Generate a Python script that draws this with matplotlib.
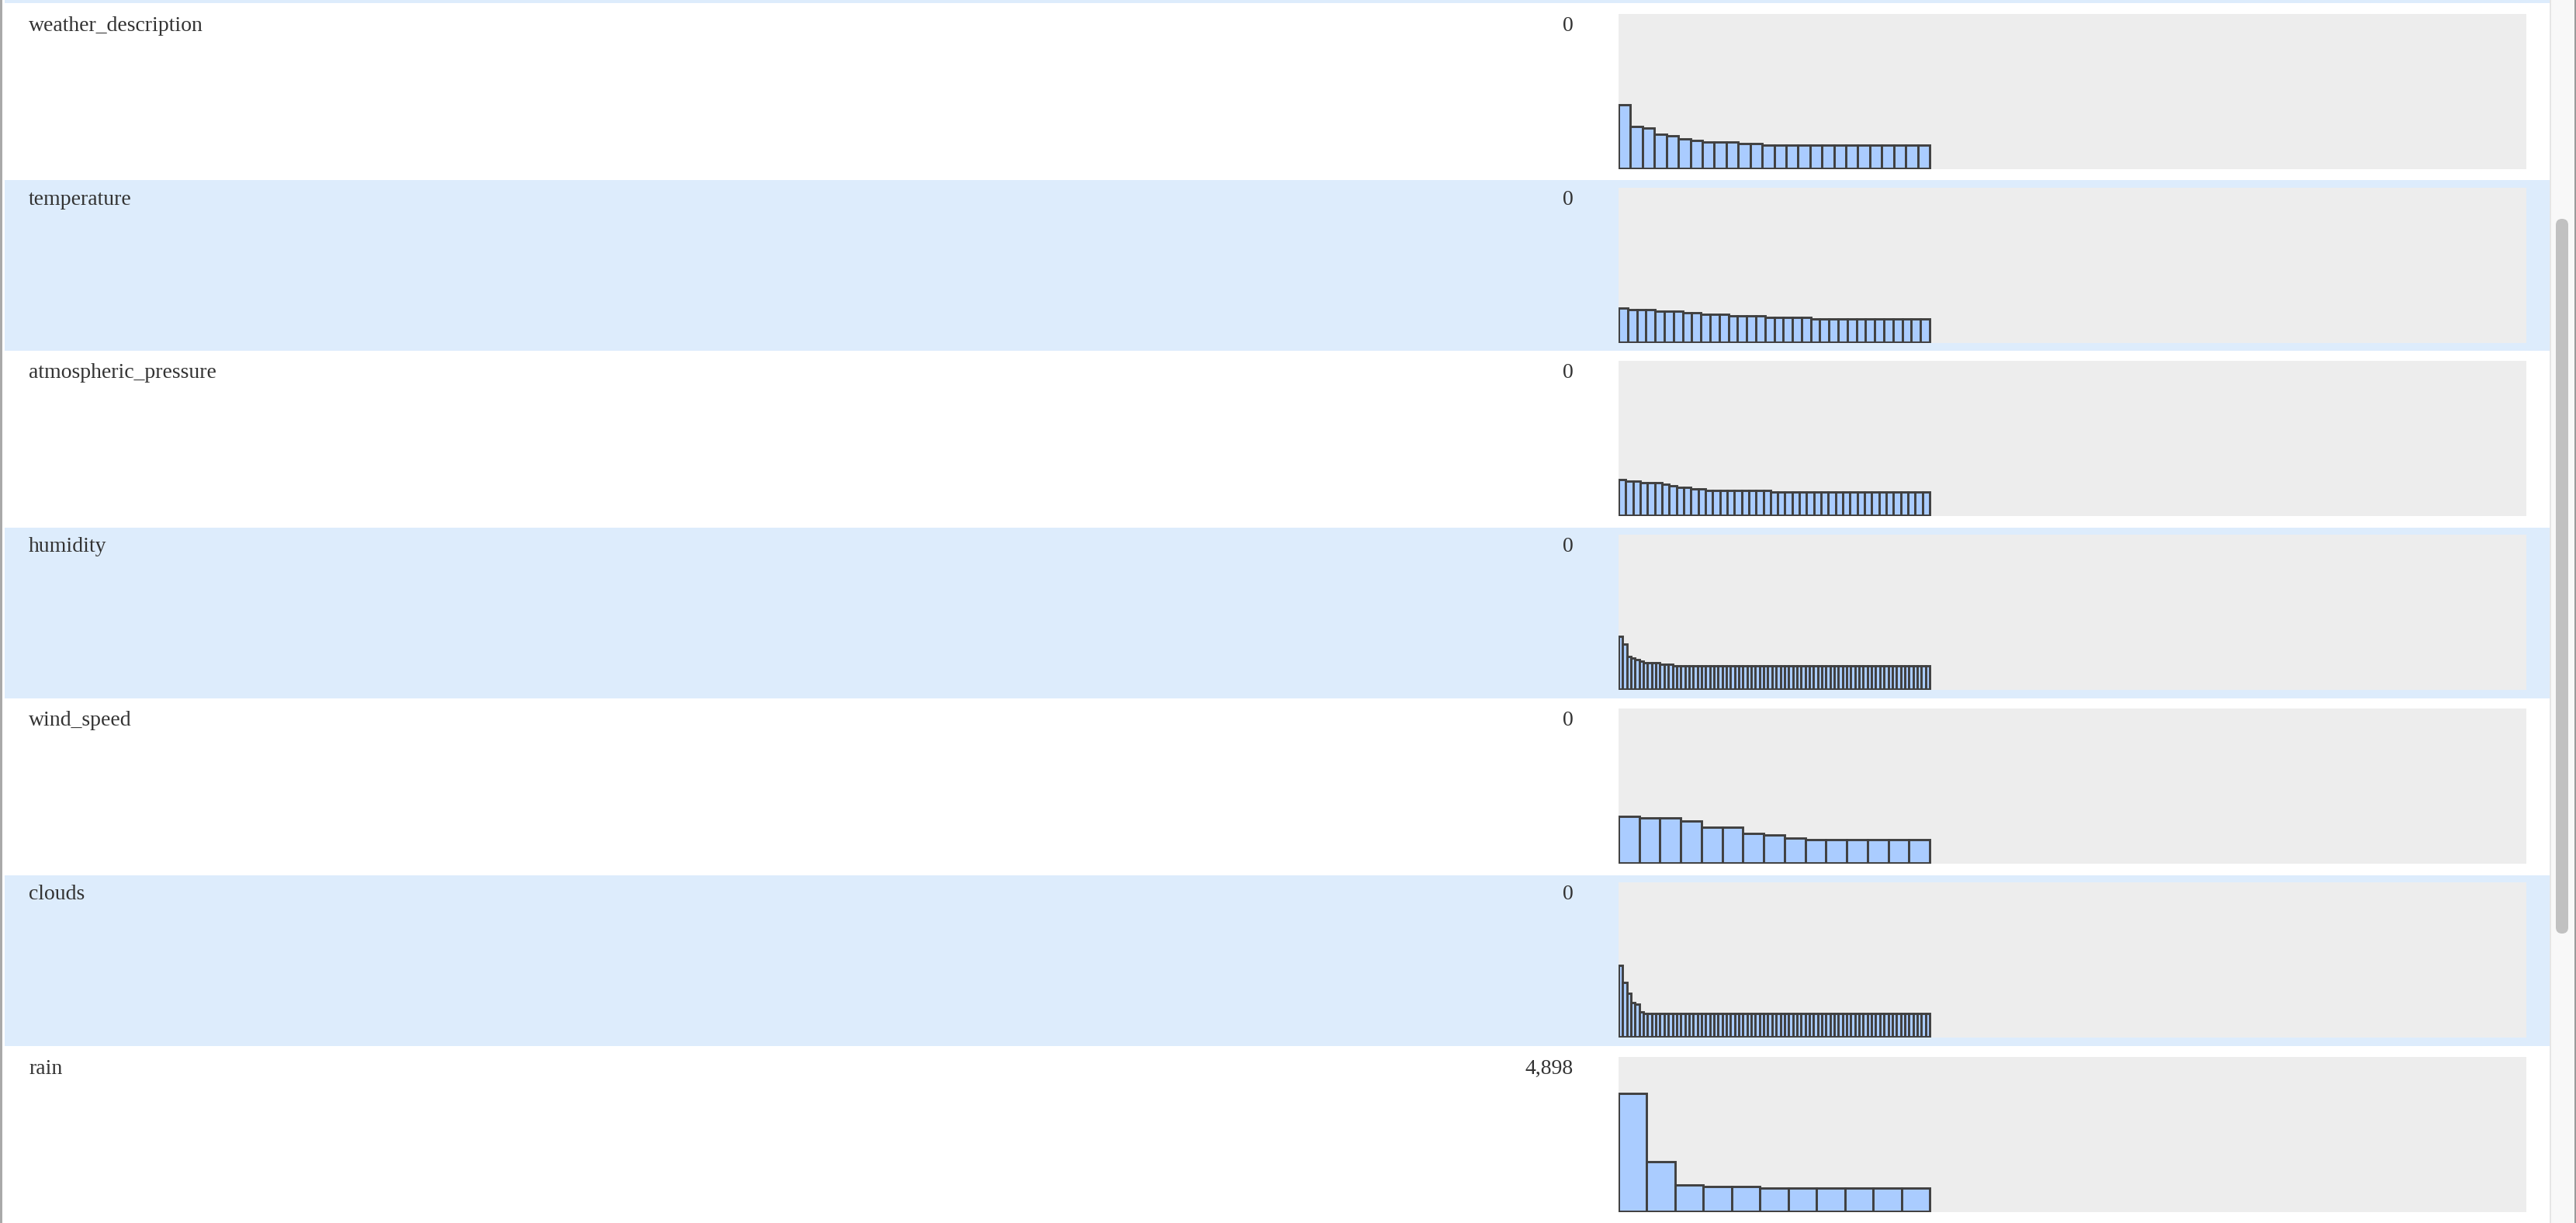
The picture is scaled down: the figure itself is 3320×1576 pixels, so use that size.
import matplotlib
matplotlib.use("Agg")
import matplotlib.pyplot as plt
from matplotlib.patches import Rectangle, FancyBboxPatch

# column names and missing-value counts
columns = ["weather_description", "temperature", "atmospheric_pressure",
           "humidity", "wind_speed", "clouds", "rain"]
missing = [0, 0, 0, 0, 0, 0, 4898]

# value-frequency bars, height in percent of the panel
weather_description = [41, 27, 26, 22, 21, 19, 18, 17, 17, 17, 16, 16,
                       15, 15, 15, 15, 15, 15, 15, 15, 15, 15, 15, 15, 15, 15]
temperature = [22, 21, 21, 21, 20, 20, 20, 19, 19, 18, 18, 18, 17, 17, 17, 17,
               16, 16, 16, 16, 16,
               15, 15, 15, 15, 15, 15, 15, 15, 15, 15, 15, 15, 15]
atmospheric_pressure = [23, 22, 22, 21, 21, 21, 20, 19, 18, 18, 17, 17,
                        16, 16, 16, 16, 16, 16, 16, 16, 16,
                        15, 15, 15, 15, 15, 15, 15, 15, 15, 15, 15,
                        15, 15, 15, 15, 15, 15, 15, 15, 15, 15, 15]
humidity = [34, 29, 21, 20, 19, 18, 17, 17, 17, 17, 16, 16, 16,
            15, 15, 15, 15, 15, 15, 15, 15, 15, 15, 15, 15, 15, 15, 15, 15,
            15, 15, 15, 15, 15, 15, 15, 15, 15, 15, 15, 15, 15, 15, 15, 15,
            15, 15, 15, 15, 15, 15, 15, 15, 15, 15, 15, 15, 15, 15, 15, 15,
            15, 15, 15, 15, 15, 15, 15, 15, 15, 15, 15, 15, 15, 15]
wind_speed = [30, 29, 29, 27, 23, 23, 19, 18, 16, 15, 15, 15, 15, 15, 15]
clouds = [46, 35, 28, 22, 21, 16,
          15, 15, 15, 15, 15, 15, 15, 15, 15, 15, 15, 15, 15, 15, 15, 15,
          15, 15, 15, 15, 15, 15, 15, 15, 15, 15, 15, 15, 15, 15, 15, 15,
          15, 15, 15, 15, 15, 15, 15, 15, 15, 15, 15, 15, 15, 15, 15, 15,
          15, 15, 15, 15, 15, 15, 15, 15, 15, 15, 15, 15, 15, 15, 15, 15,
          15, 15, 15, 15, 15]
rain = [76, 32, 17, 16, 16, 15, 15, 15, 15, 15, 15]

bars = [weather_description, temperature, atmospheric_pressure,
        humidity, wind_speed, clouds, rain]

# page layout in pixels
W, H = 3320, 1576
row_top = [4, 232, 452, 680, 900, 1128, 1348]
row_bot = [232, 452, 680, 900, 1128, 1348, 1576]
box_top = [18, 242, 465, 689, 913, 1137, 1362]
box_x, box_w, box_h = 2086, 1170, 200
bars_w = 401
shade = "#ddecfc"
txt = "#333333"

fig = plt.figure(figsize=(W / 100, H / 100), dpi=100)
ax = fig.add_axes([0, 0, 1, 1])
ax.set_xlim(0, W)
ax.set_ylim(H, 0)
ax.axis("off")

# partial row at the very top
ax.add_patch(Rectangle((6, 0), 3280, 4, color=shade, lw=0))

for i, name in enumerate(columns):
    if i % 2 == 1:
        ax.add_patch(Rectangle((6, row_top[i]), 3280, row_bot[i] - row_top[i],
                               color=shade, lw=0))
    base = box_top[i] + 22
    ax.text(37, base, name, family="Liberation Serif", fontsize=20,
            color=txt, va="baseline", ha="left")
    ax.text(2028, base, f"{missing[i]:,}", family="Liberation Serif",
            fontsize=20, color=txt, va="baseline", ha="right")

    vals = bars[i]
    n = len(vals)
    hax = fig.add_axes([box_x / W, 1 - (box_top[i] + box_h) / H,
                        box_w / W, box_h / H])
    hax.set_facecolor("#ededed")
    hax.bar(range(n), vals, width=1.0, color="#aaccff",
            edgecolor="#404040", linewidth=2.1)
    hax.set_xlim(-0.5, -0.5 + n * box_w / bars_w)
    hax.set_ylim(-0.67, 99.33)
    hax.set_xticks([])
    hax.set_yticks([])
    for s in hax.spines.values():
        s.set_visible(False)

# left border
ax.add_patch(Rectangle((0, 0), 3, H, color="#a9a9a9", lw=0))
# scrollbar
ax.add_patch(Rectangle((3286, 0), 34, H, color="#f8f8f8", lw=0))
ax.add_patch(Rectangle((3286, 0), 1.5, H, color="#e6e6e6", lw=0))
ax.add_patch(Rectangle((3318, 0), 2, H, color="#9a9a9a", lw=0))
ax.add_patch(FancyBboxPatch((3294, 282), 16, 921,
                            boxstyle="round,pad=0,rounding_size=8",
                            color="#c1c1c1", lw=0))

fig.savefig("out.png", dpi=100)
